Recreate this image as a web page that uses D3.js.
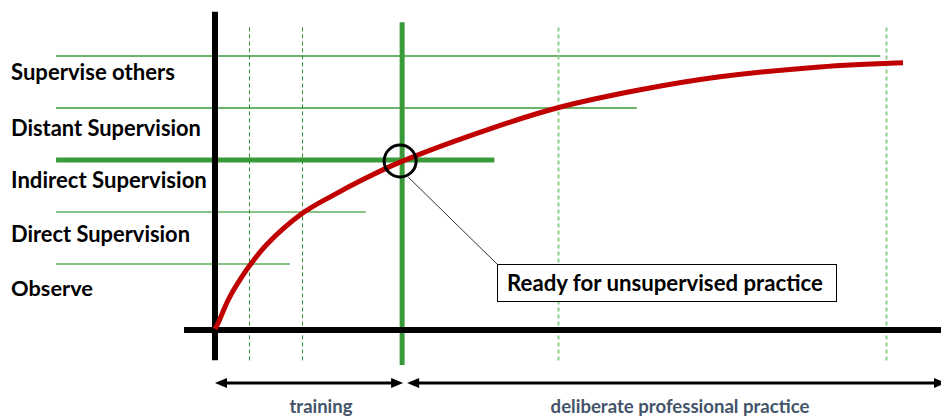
<!DOCTYPE html>
<html>
<head>
<meta charset="utf-8">
<script src="https://cdn.jsdelivr.net/npm/d3@7"></script>
<style>
  html, body { margin: 0; padding: 0; background: #fff; }
  svg { display: block; }
  text { font-family: Lato, "Open Sans", sans-serif; font-weight: 700; }
</style>
</head>
<body>
<svg id="chart" width="941" height="416"></svg>
<script>
// ---------- data ----------
const levels = ["Observe", "Direct Supervision", "Indirect Supervision", "Distant Supervision", "Supervise others"];
// level boundaries (1..5) and how far (in time units) each boundary line reaches
const boundaryLevels = [1, 2, 3, 4, 5];
const boundaryEnds   = [10.9, 21.9, 40.6, 61.3, 96.7];
// learning curve (time, competence level)
const curveTime  = [0, 0.58, 1.02, 1.74, 2.62, 3.78, 5.09, 7.56, 12.65, 17.15, 21.5, 26.9, 39.97, 49.7, 61.8, 73.4, 87.9, 100];
const curveLevel = [-0.25, -0.1, 0.04, 0.26, 0.48, 0.73, 0.98, 1.38, 1.97, 2.32, 2.625, 2.96, 3.6, 4.0, 4.35, 4.6, 4.79, 4.87];
// times at which the curve crosses each level (dashed markers)
const crossTimes = [4.9, 12.6, 49.9, 97.5];
const readyTime = 27.2;    // ready for unsupervised practice
const readyLevel = 3;
const phases = ["training", "deliberate professional practice"];
const calloutText = "Ready for unsupervised practice";

// ---------- scales ----------
const x = d3.scaleLinear().domain([0, 100]).range([215, 903]);
const y = d3.scaleLinear().domain([1, 5]).range([264, 56]);
const axisLevel = -0.27;
const crisp = v => Math.round(v) + 0.5;

const svg = d3.select("#chart");

function fitText(sel, width) {
  sel.each(function () {
    const t = d3.select(this);
    let fs = 18;
    t.style("font-size", fs + "px");
    const w = this.getComputedTextLength();
    fs = fs * width / w;
    t.style("font-size", fs + "px");
  });
}

// level boundary lines
const lineStyles = [
  { c: "#86c586", w: 2 },
  { c: "#86c586", w: 2 },
  { c: "#3a9a3a", w: 5 },
  { c: "#3a9a3a", w: 1.5 },
  { c: "#3a9a3a", w: 1.5 }
];
svg.append("g").selectAll("line").data(boundaryLevels).join("line")
  .attr("x1", x(-23.1))
  .attr("x2", (d, i) => x(boundaryEnds[i]))
  .attr("y1", d => y(d)).attr("y2", d => y(d))
  .attr("stroke", (d, i) => lineStyles[i].c)
  .attr("stroke-width", (d, i) => lineStyles[i].w);

// dashed crossing markers
svg.append("g").selectAll("line").data(crossTimes).join("line")
  .attr("x1", d => crisp(x(d))).attr("x2", d => crisp(x(d)))
  .attr("y1", y(5.55)).attr("y2", y(-0.9))
  .attr("stroke", (d, i) => i < 2 ? "#2f962f" : "#8fcf8f")
  .attr("stroke-width", (d, i) => i < 2 ? 1 : 2)
  .attr("stroke-dasharray", "4,3");

// ready vertical thick line
svg.append("line")
  .attr("x1", x(readyTime)).attr("x2", x(readyTime))
  .attr("y1", y(5.65)).attr("y2", y(-0.94))
  .attr("stroke", "#3a9a3a").attr("stroke-width", 5);

// axes (black)
svg.append("line")
  .attr("x1", x(0)).attr("x2", x(0))
  .attr("y1", y(5.85)).attr("y2", y(-0.85))
  .attr("stroke", "#000").attr("stroke-width", 6);
svg.append("line")
  .attr("x1", x(-4.5)).attr("x2", x(106))
  .attr("y1", y(axisLevel)).attr("y2", y(axisLevel))
  .attr("stroke", "#000").attr("stroke-width", 6);

// learning curve
const pts = curveTime.map((t, i) => [t, curveLevel[i]]);
svg.append("path")
  .datum(pts)
  .attr("d", d3.line().x(d => x(d[0])).y(d => y(d[1])).curve(d3.curveCatmullRom.alpha(0.5)))
  .attr("fill", "none").attr("stroke", "#c00000").attr("stroke-width", 5);

// callout
const cx = x(readyTime) - 2, cy = y(readyLevel) + 1;
svg.append("line")
  .attr("x1", cx + 8).attr("y1", cy + 16)
  .attr("x2", 497).attr("y2", 264)
  .attr("stroke", "#333").attr("stroke-width", 1);
svg.append("circle")
  .attr("cx", cx).attr("cy", cy).attr("r", 16)
  .attr("fill", "none").attr("stroke", "#000").attr("stroke-width", 3);
svg.append("rect")
  .attr("x", 497.5).attr("y", 264.5).attr("width", 339).attr("height", 37)
  .attr("fill", "#fff").attr("stroke", "#000").attr("stroke-width", 1);
svg.append("text")
  .attr("x", 507).attr("y", 291)
  .attr("fill", "#000")
  .text(calloutText)
  .call(fitText, 316);

// level labels
const labelBaselines = [296, 242, 188, 136, 80];
const labelWidths = [82, 179, 196, 190, 164];
svg.append("g").selectAll("text").data(levels).join("text")
  .attr("x", 11)
  .attr("y", (d, i) => labelBaselines[i])
  .attr("fill", "#000")
  .text(d => d)
  .each(function (d, i) { d3.select(this).call(fitText, labelWidths[i]); });

// phase arrows
function arrow(x1, x2, yy) {
  const g = svg.append("g");
  const hl = 12, hh = 5;
  g.append("line")
    .attr("x1", x1 + hl - 2).attr("x2", x2 - hl + 2)
    .attr("y1", yy).attr("y2", yy)
    .attr("stroke", "#000").attr("stroke-width", 3);
  g.append("path")
    .attr("d", `M${x1},${yy} L${x1 + hl},${yy - hh} L${x1 + hl},${yy + hh} Z`)
    .attr("fill", "#000");
  g.append("path")
    .attr("d", `M${x2},${yy} L${x2 - hl},${yy - hh} L${x2 - hl},${yy + hh} Z`)
    .attr("fill", "#000");
}
arrow(x(0), x(readyTime) + 1, 383);
arrow(x(readyTime) + 5, 946, 383);

const phaseCenters = [321, 680];
const phaseWidths = [63, 259];
svg.append("g").selectAll("text").data(phases).join("text")
  .attr("x", (d, i) => phaseCenters[i])
  .attr("y", 413)
  .attr("text-anchor", "middle")
  .attr("fill", "#44546a")
  .text(d => d)
  .each(function (d, i) { d3.select(this).call(fitText, phaseWidths[i]); });
</script>
</body>
</html>
